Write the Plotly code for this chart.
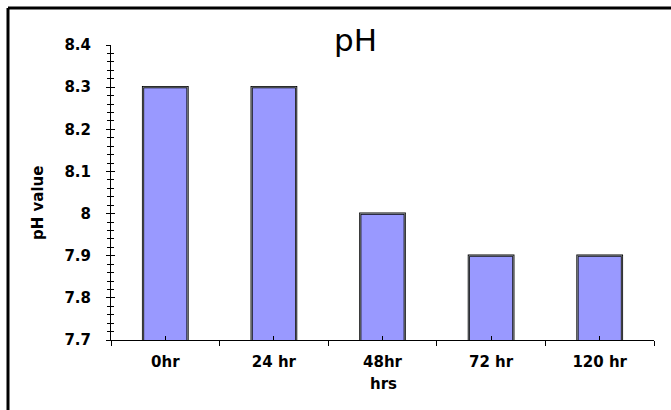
import plotly.graph_objects as go

# Sampling times and measured pH
hours = ["0hr", "24 hr", "48hr", "72 hr", "120 hr"]
ph_values = [8.3, 8.3, 8.0, 7.9, 7.9]
y_ticks = [7.7, 7.8, 7.9, 8.0, 8.1, 8.2, 8.3, 8.4]
y_tick_text = ["7.7", "7.8", "7.9", "8", "8.1", "8.2", "8.3", "8.4"]

W, H = 671, 410
L, R, T, B = 111, 17, 45, 70
pw, ph = W - L - R, H - T - B

FONT = "DejaVu Sans, Arial, sans-serif"
BOLD = dict(family=FONT, size=15, weight="bold", color="#000000")


def px_x(x):
    return (x - L) / pw


def px_y(y):
    return (H - B - y) / ph


fig = go.Figure()

fig.add_trace(go.Bar(
    x=hours, y=ph_values,
    width=0.41,
    marker=dict(color="#9999FF", line=dict(color="#000000", width=2.2)),
    hoverinfo="x+y",
))

# Transparent copy on the overlay axes so their tick marks are drawn
fig.add_trace(go.Bar(
    x=hours, y=ph_values, xaxis="x2", yaxis="y2",
    width=0.41, marker=dict(color="rgba(0,0,0,0)"),
    hoverinfo="skip", showlegend=False,
))

common_y = dict(range=[7.7, 8.4], tickvals=y_ticks, showgrid=False, zeroline=False)

fig.update_layout(
    width=W, height=H,
    margin=dict(l=L, r=R, t=T, b=B),
    paper_bgcolor="white", plot_bgcolor="white",
    showlegend=False,
    font=dict(family=FONT, color="#000000"),
    title=dict(text="pH", x=355.5 / W, xanchor="center", y=1 - 40 / H, yanchor="middle",
               font=dict(family=FONT, size=31, color="#000000")),
    xaxis=dict(
        type="category", categoryorder="array", categoryarray=hours, range=[-0.5, 4.5],
        showline=True, linecolor="#000000", linewidth=1,
        ticks="outside", tickson="boundaries", ticklen=5, tickcolor="#000000", tickwidth=1,
        tickfont=BOLD,
        ticklabelstandoff=8,
        showgrid=False,
    ),
    xaxis2=dict(
        type="category", categoryorder="array", categoryarray=hours, range=[-0.5, 4.5],
        overlaying="x", anchor="y",
        ticks="inside", ticklen=4, tickcolor="#000000", tickwidth=1,
        showticklabels=False, showline=False, showgrid=False,
    ),
    yaxis=dict(
        **common_y,
        ticktext=y_tick_text,
        showline=True, linecolor="#000000", linewidth=1,
        ticks="outside", ticklen=4, tickcolor="#000000", tickwidth=1,
        minor=dict(ticks="outside", dtick=0.02, tick0=7.7, ticklen=3, tickcolor="#000000"),
        tickfont=BOLD,
        ticklabelstandoff=12,
    ),
    yaxis2=dict(
        **common_y,
        overlaying="y", anchor="x",
        ticks="inside", ticklen=4, tickcolor="#000000", tickwidth=1,
        minor=dict(ticks="inside", dtick=0.02, tick0=7.7, ticklen=3, tickcolor="#000000"),
        showticklabels=False, showline=False,
    ),
    bargap=0.59,
)

# Axis titles
fig.add_annotation(text="hrs", xref="paper", yref="paper",
                   x=px_x(383), y=px_y(384), xanchor="center", yanchor="middle",
                   showarrow=False, font=BOLD)
fig.add_annotation(text="pH value", xref="paper", yref="paper",
                   x=px_x(38), y=px_y(203), xanchor="center", yanchor="middle",
                   textangle=-90, showarrow=False, font=BOLD)

# Frame around the chart (left and top edges fall inside the page)
fig.add_shape(type="line", xref="paper", yref="paper",
              x0=px_x(8), x1=px_x(8), y0=px_y(H + 5), y1=px_y(8),
              line=dict(color="#000000", width=3))
fig.add_shape(type="line", xref="paper", yref="paper",
              x0=px_x(8), x1=px_x(W + 5), y0=px_y(8), y1=px_y(8),
              line=dict(color="#000000", width=3))

fig.write_html("out.html")
